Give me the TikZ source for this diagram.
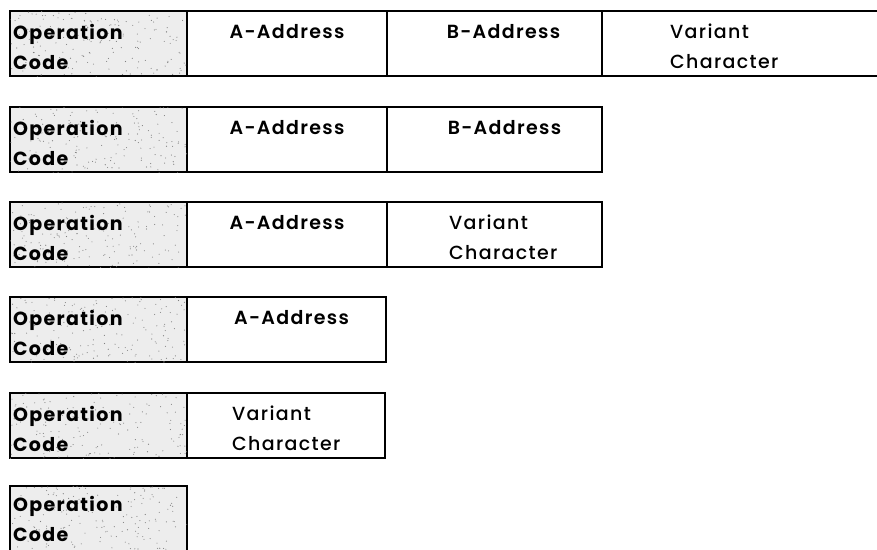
\documentclass[tikz,border=0pt]{standalone}
\usepackage{fontspec}
\setmainfont{Poppins}[LetterSpace=7]
\newfontfamily\addrfont{Poppins SemiBold}[LetterSpace=7]
\newfontfamily\varfont{Poppins Medium}[LetterSpace=7]
\usetikzlibrary{calc}
\newcommand{\stipplebox}[1]{%
  \begin{scope}
    \clip (#1.north west) rectangle (#1.south east);
    \foreach \k in {1,...,170}{%
      \fill[black!50] ($(#1.north west)+(rnd*177,rnd*66)$) circle (0.55pt);}
  \end{scope}}
\begin{document}
\begin{tikzpicture}[x=1pt,y=-1pt,
  box/.style={draw=black, line width=1.3pt, anchor=north west, minimum height=65pt, inner sep=0pt, outer sep=0pt},
  opbox/.style={box, fill=black!7, line width=1.7pt, minimum width=177pt},
  optext/.style={anchor=north west, align=left, inner sep=0pt, font=\fontsize{19}{30}\selectfont\bfseries},
  addr/.style={anchor=north, inner sep=0pt, font=\fontsize{19}{22}\selectfont\addrfont},
  vartext/.style={anchor=north west, align=left, inner sep=0pt, font=\fontsize{19}{30}\selectfont\varfont},
  rule/.style={line width=1.3pt}
]
\useasboundingbox (0,0) rectangle (877,549);
\clip (0,0) rectangle (877,549);
\pgfmathsetseed{7}

% Row 1
\node[opbox] (op1) at (10,11) {};
\node[box, minimum width=200pt] (a1) at (187,11) {};
\node[box, minimum width=215pt] (b1) at (387,11) {};
\node[box, draw=none, minimum width=300pt] (v1) at (602,11) {};
\draw[rule] (v1.north west) -- (v1.north east) (v1.south west) -- (v1.south east);
\stipplebox{op1}
\node[optext] (op1t) at ($(op1.north west)+(3,13)$) {Operation\\Code};
\node[addr] (a1t) at ($(a1.north)+(0,13)$) {A-Address};
\node[addr] (b1t) at ($(b1.north)+(9,13)$) {B-Address};
\node[vartext] (v1t) at ($(v1.north west)+(68,13)$) {Variant\\Character};

% Row 2
\node[opbox] (op2) at (10,107) {};
\node[box, minimum width=200pt] (a2) at (187,107) {};
\node[box, minimum width=215pt] (b2) at (387,107) {};
\stipplebox{op2}
\node[optext] (op2t) at ($(op2.north west)+(3,13)$) {Operation\\Code};
\node[addr] (a2t) at ($(a2.north)+(0,13)$) {A-Address};
\node[addr] (b2t) at ($(b2.north)+(10,13)$) {B-Address};

% Row 3
\node[opbox] (op3) at (10,202) {};
\node[box, minimum width=200pt] (a3) at (187,202) {};
\node[box, minimum width=215pt] (v3) at (387,202) {};
\stipplebox{op3}
\node[optext] (op3t) at ($(op3.north west)+(3,13)$) {Operation\\Code};
\node[addr] (a3t) at ($(a3.north)+(0,13)$) {A-Address};
\node[vartext] (v3t) at ($(v3.north west)+(62,13)$) {Variant\\Character};

% Row 4
\node[opbox] (op4) at (10,297) {};
\node[box, minimum width=199pt] (a4) at (187,297) {};
\stipplebox{op4}
\node[optext] (op4t) at ($(op4.north west)+(3,13)$) {Operation\\Code};
\node[addr] (a4t) at ($(a4.north)+(5,13)$) {A-Address};

% Row 5
\node[opbox] (op5) at (10,393) {};
\node[box, minimum width=198pt] (v5) at (187,393) {};
\stipplebox{op5}
\node[optext] (op5t) at ($(op5.north west)+(3,13)$) {Operation\\Code};
\node[vartext] (v5t) at ($(v5.north west)+(45,13)$) {Variant\\Character};

% Row 6
\node[opbox] (op6) at (10,486) {};
\stipplebox{op6}
\node[optext] (op6t) at ($(op6.north west)+(3,10)$) {Operation\\Code};
\end{tikzpicture}
\end{document}
